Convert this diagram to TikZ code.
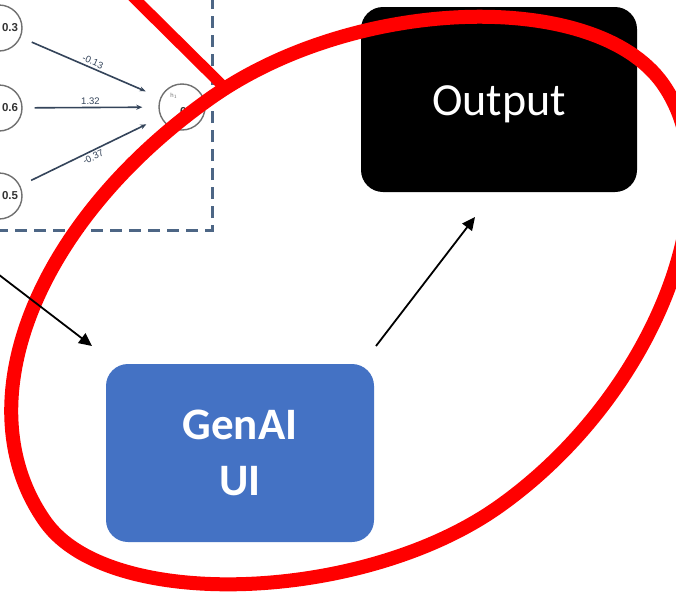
\documentclass[tikz,border=0pt]{standalone}
\usepackage{fontspec}
\usetikzlibrary{arrows.meta}
\newfontfamily\carlitofont{Carlito}
\newfontfamily\arialfont{Liberation Sans}
\definecolor{genblue}{HTML}{4472C4}
\definecolor{nngray}{HTML}{707070}
\definecolor{nnline}{HTML}{34445A}
\definecolor{nnbox}{HTML}{4D6685}
\definecolor{annred}{HTML}{FF0000}
\tikzset{
  neuron/.style={circle, draw=nngray, line width=1.4pt, minimum size=46pt, inner sep=0pt, font=\arialfont\bfseries\fontsize{11.5}{13}\selectfont, text=black!80},
  nnarrow/.style={draw=nnline, line width=1.6pt, -{Stealth[length=6pt,width=5pt]}, shorten <=12pt, shorten >=16pt},
  wlabel/.style={font=\arialfont\fontsize{9.5}{11}\selectfont, text=nnline, inner sep=2pt},
  dashbox/.style={draw=nnbox, line width=3pt, dash pattern=on 12pt off 7pt},
  mainbox/.style={rectangle, rounded corners=22pt, inner sep=0pt, text=white},
  arr/.style={draw=black, line width=1.8pt, -{Triangle[length=13pt,width=12pt]}},
  redmark/.style={draw=annred, line width=14pt, line join=round},
}
\begin{document}
\begin{tikzpicture}[x=1pt, y=-1pt]
\useasboundingbox (0,0) rectangle (676,595);
\clip (0,0) rectangle (676,595);
\fill[white] (0,0) rectangle (676,595);
% neural network fragment
\node[neuron] (in1) at (-1,28) {\hspace*{22pt}0.3};
\node[neuron] (in2) at (-1,108) {\hspace*{22pt}0.6};
\node[neuron] (in3) at (-1,196) {\hspace*{22pt}0.5};
\node[neuron] (out) at (182,107) {};
\node[font=\arialfont\fontsize{6}{7}\selectfont, text=nngray] (outh) at (174,96) {h$_1$};
\node[font=\arialfont\bfseries\fontsize{11.5}{13}\selectfont, text=black!80] (outv) at (188,112) {0.6};
\draw[nnarrow] (in1) -- node[wlabel, sloped, above] (w1) {-0.13} (out);
\draw[nnarrow] (in2) -- node[wlabel, sloped, above] (w2) {1.32} (out);
\draw[nnarrow] (in3) -- node[wlabel, sloped, below] (w3) {-0.37} (out);
\draw[dashbox] (-20,-20) rectangle (212,230);
% main boxes
\node[mainbox, fill=black, minimum width=276pt, minimum height=185pt, text depth=0pt,
      font=\carlitofont\fontsize{46}{56}\selectfont] (output) at (499,99.5) {\raisebox{-1.5pt}{Output}};
% red annotation
\coordinate (rl1) at (128,-8);
\coordinate (rl2) at (228,91);
\draw[annred, line width=11pt] (rl1) -- (rl2);
\begin{scope}[shift={(354.5,302.5)}, rotate=35.4]
\draw[redmark] (378,0) .. controls (378,-116.8) and (177,-250) .. (0,-250)
  .. controls (-216,-250) and (-379,-142.5) .. (-379,0)
  .. controls (-379,110) and (-166.8,250) .. (0,250)
  .. controls (193,250) and (378,126) .. (378,0) -- cycle;
\end{scope}
% GenAI box
\node[mainbox, fill=genblue, minimum width=268pt, minimum height=178pt, align=center,
      font=\carlitofont\bfseries\fontsize{45}{56}\selectfont] (genai) at (240,453) {GenAI\\UI};
% arrows
\coordinate (lin) at (-6,271);
\coordinate (lend) at (92,346);
\coordinate (gstart) at (376,346);
\coordinate (oend) at (475,217);
\draw[arr] (lin) -- (lend);
\draw[arr] (gstart) -- (oend);
\end{tikzpicture}
\end{document}
